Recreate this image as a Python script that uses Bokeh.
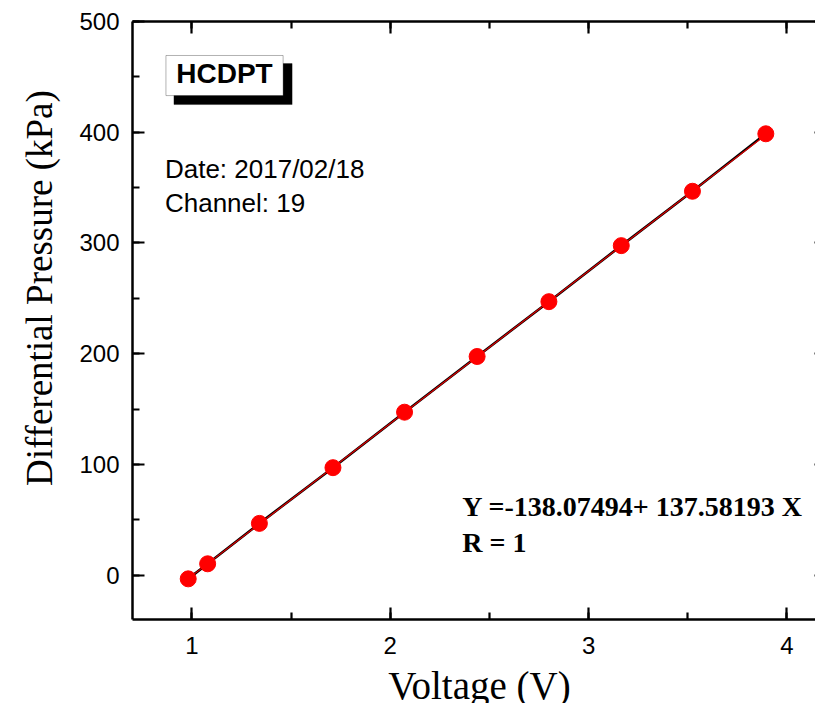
from bokeh.embed import file_html
from bokeh.models import (BoxAnnotation, CustomJSTickFormatter, Label,
                          LinearAxis, Range1d, SingleIntervalTicker, Title)
from bokeh.plotting import figure
from bokeh.resources import INLINE

# Calibration points: output voltage (V) vs. applied differential pressure (kPa)
voltage = [0.981, 1.079, 1.340, 1.711, 2.072, 2.438, 2.800, 3.165, 3.524, 3.894]
pressure = [-3.3, 10.3, 46.8, 97.1, 147.2, 197.5, 247.0, 297.6, 346.7, 398.6]

# Linear fit coefficients (intercept, slope) and correlation
fit_intercept = -138.07494
fit_slope = 137.58193
fit_r = 1

sensor_name = "HCDPT"
date_text = "Date: 2017/02/18"
channel_text = "Channel: 19"
x_title = "Voltage (V)"
y_title = "Differential Pressure (kPa)"

SANS = "Liberation Sans"
SERIF = "Liberation Serif"

p = figure(
    frame_width=694, frame_height=598,
    x_range=Range1d(0.7, 4.2), y_range=Range1d(-40, 500),
    output_backend="svg", toolbar_location=None,
    min_border_left=132, min_border_top=21, min_border_right=14,
    min_border_bottom=0,
    background_fill_color="white", border_fill_color="white",
    x_axis_location=None, y_axis_location=None,
)
p.outline_line_color = None
p.xgrid.visible = False
p.ygrid.visible = False


def style_axis(ax, show_labels):
    ax.axis_line_color = "black"
    ax.axis_line_width = 2.5
    ax.major_tick_line_color = "black"
    ax.major_tick_line_width = 2.2
    ax.minor_tick_line_color = "black"
    ax.minor_tick_line_width = 2.2
    ax.major_tick_in = 12
    ax.major_tick_out = 0
    ax.minor_tick_in = 7
    ax.minor_tick_out = 0
    if show_labels:
        ax.major_label_text_font = SANS
        ax.major_label_text_font_size = "24px"
        ax.major_label_text_color = "black"
    else:
        # frame-only axis: ticks but no numbers
        ax.formatter = CustomJSTickFormatter(code="return ''")
        ax.major_label_standoff = 0


def x_ticker():
    return SingleIntervalTicker(interval=1, num_minor_ticks=2)


def y_ticker():
    return SingleIntervalTicker(interval=100, num_minor_ticks=2)


bottom = LinearAxis(ticker=x_ticker(), axis_label=x_title)
style_axis(bottom, True)
bottom.major_label_standoff = 17
bottom.axis_label_text_font = SERIF
bottom.axis_label_text_font_size = "39px"
bottom.axis_label_text_font_style = "normal"
bottom.axis_label_text_color = "black"
bottom.axis_label_standoff = 7
p.add_layout(bottom, "below")

left = LinearAxis(ticker=y_ticker())
style_axis(left, True)
left.major_label_standoff = 13
p.add_layout(left, "left")

top = LinearAxis(ticker=x_ticker())
style_axis(top, False)
p.add_layout(top, "above")

right = LinearAxis(ticker=y_ticker())
style_axis(right, False)
p.add_layout(right, "right")

# Y axis title; leading no-break spaces lift the centred text up the frame
p.add_layout(Title(text="\u00a0" * 7 + y_title, align="center",
                   text_font=SERIF, text_font_size="37px",
                   text_font_style="normal", text_color="black",
                   standoff=33), "left")

# Data line with the fitted line over it
p.line(voltage, pressure, line_color="black", line_width=2.6)
fit_x = [min(voltage), max(voltage)]
fit_y = [fit_intercept + fit_slope * v for v in fit_x]
p.line(fit_x, fit_y, line_color="#E00000", line_width=1.2)

p.scatter(voltage, pressure, size=16, marker="circle",
          fill_color="#FF0000", line_color="#FF0000")

# Sensor name tag with drop shadow
p.add_layout(BoxAnnotation(left=0.909, right=1.505, top=462.0, bottom=425.0,
                           fill_color="black", fill_alpha=1.0,
                           line_color="black"))
p.add_layout(BoxAnnotation(left=0.8687, right=1.4596, top=469.3, bottom=433.1,
                           fill_color="white", fill_alpha=1.0,
                           line_color="black", line_width=1))
p.add_layout(Label(x=1.164, y=452.9, text=sensor_name,
                   text_font=SANS, text_font_size="28px",
                   text_font_style="bold", text_color="black",
                   text_align="center", text_baseline="alphabetic"))

# Calibration info
p.add_layout(Label(x=0.8636, y=366.5, text=date_text,
                   text_font=SANS, text_font_size="26px", text_color="black",
                   text_baseline="alphabetic"))
p.add_layout(Label(x=0.8636, y=336.5, text=channel_text,
                   text_font=SANS, text_font_size="26px", text_color="black",
                   text_baseline="alphabetic"))

# Fit equation
eq_text = f"Y ={fit_intercept:.5f}+ {fit_slope:.5f} X"
p.add_layout(Label(x=2.3636, y=62.3, text=eq_text,
                   text_font=SERIF, text_font_size="28px",
                   text_font_style="bold", text_color="black",
                   text_baseline="alphabetic"))
p.add_layout(Label(x=2.3636, y=29.8, text=f"R = {fit_r}",
                   text_font=SERIF, text_font_size="28px",
                   text_font_style="bold", text_color="black",
                   text_baseline="alphabetic"))

html = file_html(p, INLINE)
html = html.replace("</head>",
                    "<style>html, body {overflow: hidden; margin: 0;}</style></head>", 1)
open("out.html", "w").write(html)
